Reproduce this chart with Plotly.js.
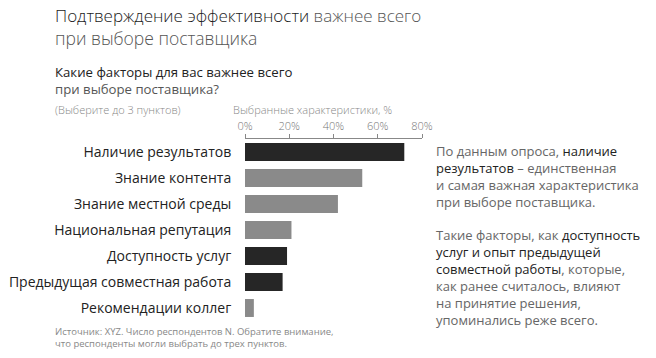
<!DOCTYPE html>
<html><head><meta charset="utf-8">
<script src="https://cdn.plot.ly/plotly-3.0.1.min.js"></script>
<style>html,body{margin:0;padding:0;background:#fff}#chart{width:656px;height:358px}</style>
</head><body><div id="chart"></div>
<script>
// ---- data ----
const categories = ['Наличие результатов','Знание контента','Знание местной среды','Национальная репутация','Доступность услуг','Предыдущая совместная работа','Рекомендации коллег'];
const values = [72, 53, 42, 21, 19, 17, 4];
const highlighted = ['Наличие результатов','Доступность услуг','Предыдущая совместная работа'];
const tickValues = [0, 20, 40, 60, 80];
const tickLabels = ['0%', '20%', '40%', '60%', '80%'];
const titleDark = 'Подтверждение эффективности';
const titleLight1 = ' важнее всего';
const titleLight2 = 'при выборе поставщика';
const questionLine1 = 'Какие факторы для вас важнее всего';
const questionLine2 = 'при выборе поставщика?';
const questionNote = '(Выберите до 3 пунктов)';
const axisTitle = 'Выбранные характеристики, %';
const note1 = '<span style="color:#666">По данным опроса, </span>наличие<br>результатов<span style="color:#666"> – единственная<br>и самая важная характеристика<br>при выборе поставщика.</span>';
const note2 = '<span style="color:#666">Такие факторы, как </span>доступность<br>услуг и опыт предыдущей<br>совместной работы<span style="color:#666">, которые,<br>как ранее считалось, влияют<br>на принятие решения,<br>упоминались реже всего.</span>';
const source = 'Источник: XYZ. Число респондентов N. Обратите внимание,<br>что респонденты могли выбрать до трех пунктов.';

// ---- layout helpers (pixel -> paper) ----
const W = 656, H = 358;
const L = 245, R = 656 - 421.7, T = 139, B = 358 - 321;
const pw = W - L - R, ph = H - T - B;
const px = x => (x - L) / pw;
const py = y => (H - B - y) / ph;
const FONT = 'Open Sans, Noto Sans, sans-serif';

const colors = categories.map(c => highlighted.includes(c) ? '#262626' : '#8a8a8a');

const trace = {
  type: 'bar', orientation: 'h',
  x: values, y: categories,
  marker: {color: colors, line: {width: 0}},
  hoverinfo: 'none'
};

function ann(text, x, y, size, color, opts, weight) {
  return Object.assign({text: text, xref: 'paper', yref: 'paper', x: px(x), y: py(y),
    xanchor: 'left', yanchor: 'middle', showarrow: false, align: 'left',
    font: {family: FONT, size: size, color: color, weight: weight || 400}}, opts || {});
}

const layout = {
  width: W, height: H,
  margin: {l: L, r: R, t: T, b: B, pad: 0},
  paper_bgcolor: '#fff', plot_bgcolor: '#fff',
  showlegend: false,
  bargap: 0.31,
  font: {family: FONT},
  xaxis: {
    side: 'top', range: [0, 80], tickmode: 'array', tickvals: tickValues, ticktext: tickLabels,
    showgrid: false, zeroline: false, showline: true, linecolor: '#888', linewidth: 1,
    ticks: 'outside', ticklen: 4, tickcolor: '#888', tickwidth: 1,
    tickfont: {family: FONT, size: 11, color: '#777', weight: 300}, fixedrange: true
  },
  yaxis: {
    autorange: 'reversed', showgrid: false, zeroline: false, showline: false,
    ticks: 'outside', ticklen: 10, tickcolor: 'rgba(0,0,0,0)',
    tickfont: {family: FONT, size: 14, color: '#222'}, fixedrange: true
  },
  annotations: [
    ann('<span style="color:#1a1a1a">' + titleDark + '</span>' + titleLight1, 53, 16, 17, '#555', null, 300),
    ann(titleLight2, 53, 38, 17.5, '#555', null, 300),
    ann('<span style="color:#222">' + questionLine1 + '</span><br>' + questionLine2, 53, 80, 13.2, '#555'),
    ann(questionNote, 53, 110, 11, '#888', null, 300),
    ann(axisTitle, 231, 110, 11, '#888', null, 300),
    ann(note1, 434, 140, 13, '#222', {yanchor: 'top'}),
    ann(note2, 434, 224, 13, '#222', {yanchor: 'top'}),
    ann(source, 53, 323, 9.5, '#888', {yanchor: 'top'})
  ]
};

Plotly.newPlot('chart', [trace], layout, {displayModeBar: false, staticPlot: true});
</script></body></html>
